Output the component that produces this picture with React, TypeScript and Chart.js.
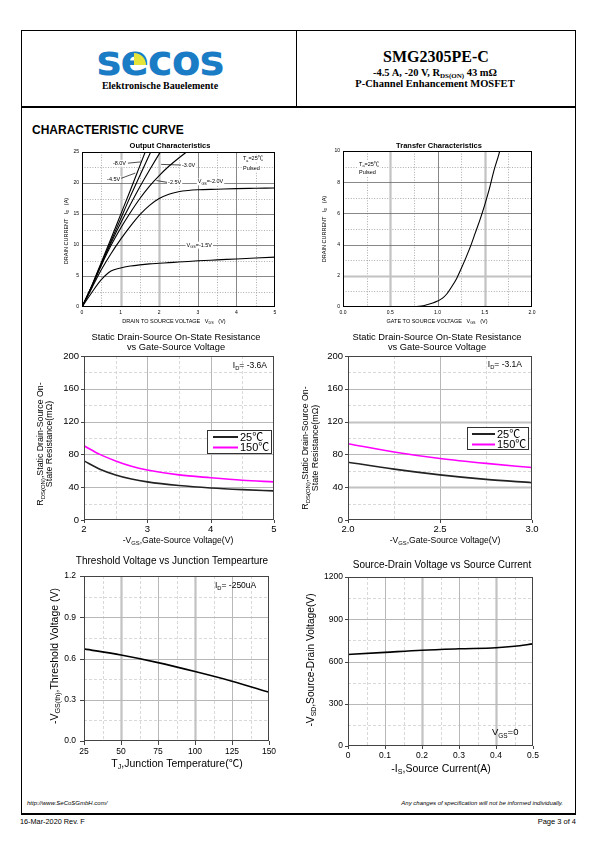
import React, { useEffect, useRef } from 'react';
import { Chart, registerables } from 'chart.js';
Chart.register(...registerables);

const SANS = '"Liberation Sans", Arial, "Noto Sans CJK SC", sans-serif';
const SERIF = '"Liberation Serif", "Times New Roman", serif';

// ---------- Output characteristics (I_D vs V_DS) ----------
const outVds = [0, 0.25, 0.5, 0.75, 1.0, 1.25, 1.5, 1.75, 2.0, 2.25, 2.5, 2.75, 3.0, 3.5, 4.0, 4.5, 5.0];
const outId_8V0 = [0, 3.4, 7.2, 11.0, 14.9, 18.8, 22.8, 26.8];
const outId_4V5 = [0, 3.3, 7.0, 10.6, 14.2, 17.8, 21.2, 24.6, 28.0];
const outId_3V0 = [0, 3.3, 6.9, 10.3, 13.5, 16.5, 19.4, 22.1, 24.7, 27.2];
const outId_2V5 = [0, 3.2, 6.7, 9.9, 12.7, 15.2, 17.5, 19.5, 21.2, 22.7, 24.0, 25.2];
const outId_2V0 = [0, 3.0, 6.0, 8.6, 10.9, 13.0, 14.9, 16.4, 17.5, 18.2, 18.6, 18.8, 18.9, 19.0, 19.1, 19.15, 19.2];
const outId_1V5 = [0, 2.3, 4.4, 5.8, 6.3, 6.6, 6.8, 6.95, 7.05, 7.15, 7.25, 7.35, 7.45, 7.6, 7.75, 7.9, 8.05];

// ---------- Transfer characteristics (I_D vs V_GS) ----------
const trVgs = [0, 0.25, 0.5, 0.75, 0.85, 0.95, 1.0, 1.05, 1.1, 1.15, 1.2, 1.25, 1.3, 1.35, 1.4, 1.45, 1.5, 1.55, 1.6, 1.65, 1.7];
const trId = [0, 0, 0, 0.02, 0.08, 0.25, 0.38, 0.55, 0.85, 1.3, 1.8, 2.45, 3.15, 3.9, 4.75, 5.6, 6.55, 7.6, 8.8, 9.8, 11.0];

// ---------- R_DS(ON) vs V_GS, I_D = -3.6A ----------
const rdsAVgs = [2.0, 2.25, 2.5, 2.75, 3.0, 3.5, 4.0, 4.5, 5.0];
const rdsA_25C = [72, 62, 55, 50, 46.5, 42, 39, 37, 35.5];
const rdsA_150C = [90.5, 80, 72, 65.5, 61, 55, 51.5, 48.5, 46.5];

// ---------- R_DS(ON) vs V_GS, I_D = -3.1A ----------
const rdsBVgs = [2.0, 2.25, 2.5, 2.75, 3.0];
const rdsB_25C = [70.5, 62, 55, 49.5, 45.5];
const rdsB_150C = [93, 83, 75, 69, 64];

// ---------- Threshold voltage vs T_J ----------
const vthTj = [25, 50, 75, 100, 125, 150];
const vthV = [0.67, 0.625, 0.57, 0.505, 0.435, 0.355];

// ---------- Source-drain voltage vs source current ----------
const sdIs = [0, 0.1, 0.2, 0.3, 0.4, 0.45, 0.5];
const sdVsd = [650, 665, 680, 690, 698, 708, 725];

// ---------- legend labels ----------
const legendLabels = ['25℃', '150℃'];

type Seg = [string, boolean?];
interface TextItem { segs: Seg[]; x: number; y: number; size: number; align?: 'left' | 'center' | 'right'; bold?: boolean; rot?: boolean; bg?: boolean; data?: boolean; }
interface AxisSpec { min: number; max: number; step: number; dec: number; zeroPlain?: boolean; thick?: number[]; }
interface Series { xs: number[]; ys: number[]; color: string; width: number; }
interface LegendSpec { box: [number, number, number, number]; rows: { color: string; label: string; y: number }[]; lineX: [number, number]; textX: number; size: number; }
interface Spec {
  box: [number, number, number, number];
  area: [number, number, number, number];
  x: AxisSpec; y: AxisSpec;
  tickSize: number; xPad: number; yPad: number;
  dark: boolean; tickLen: number;
  series: Series[];
  texts: TextItem[];
  leaders?: [number, number, number, number][];
  legend?: LegendSpec;
}

function drawSegs(ctx: CanvasRenderingContext2D, t: TextItem, x: number, y: number) {
  const size = t.size;
  const sub = size * 0.68;
  const font = (s: number) => `${t.bold ? 'bold ' : ''}${s}px ${SANS}`;
  let w = 0;
  for (const [s, isSub] of t.segs) { ctx.font = font(isSub ? sub : size); w += ctx.measureText(s).width; }
  ctx.save();
  ctx.translate(x, y);
  if (t.rot) ctx.rotate(-Math.PI / 2);
  let sx = t.align === 'center' ? -w / 2 : t.align === 'right' ? -w : 0;
  if (t.bg) { ctx.fillStyle = '#fff'; ctx.fillRect(sx - 1, -size * 0.6, w + 2, size * 1.25); }
  ctx.fillStyle = '#000';
  ctx.textBaseline = 'middle';
  ctx.textAlign = 'left';
  for (const [s, isSub] of t.segs) {
    ctx.font = font(isSub ? sub : size);
    ctx.fillText(s, sx, isSub ? size * 0.32 : 0);
    sx += ctx.measureText(s).width;
  }
  ctx.restore();
}

function inner(ax: AxisSpec): number[] {
  const out: number[] = [];
  const n = Math.round((ax.max - ax.min) / ax.step);
  for (let i = 1; i < n; i++) out.push(+(ax.min + i * ax.step).toFixed(6));
  return out;
}
function halves(ax: AxisSpec): number[] {
  const out: number[] = [];
  const n = Math.round((ax.max - ax.min) / ax.step);
  for (let i = 0; i < n; i++) out.push(+(ax.min + (i + 0.5) * ax.step).toFixed(6));
  return out;
}

function makeDecor(spec: Spec) {
  const [bx, by] = spec.box;
  return {
    id: 'decor',
    beforeDatasetsDraw(chart: any) {
      const ctx: CanvasRenderingContext2D = chart.ctx;
      const a = chart.chartArea;
      const sx = chart.scales.x, sy = chart.scales.y;
      ctx.save();
      const vline = (v: number) => { const p = Math.round(sx.getPixelForValue(v)) + 0.5; ctx.beginPath(); ctx.moveTo(p, a.top); ctx.lineTo(p, a.bottom); ctx.stroke(); };
      const hline = (v: number) => { const p = Math.round(sy.getPixelForValue(v)) + 0.5; ctx.beginPath(); ctx.moveTo(a.left, p); ctx.lineTo(a.right, p); ctx.stroke(); };
      ctx.setLineDash(spec.dark ? [1, 1.6] : [3, 2]);
      ctx.strokeStyle = spec.dark ? '#8a8a8a' : '#cfcfcf';
      ctx.lineWidth = spec.dark ? 0.7 : 0.8;
      halves(spec.x).forEach(vline);
      halves(spec.y).forEach(hline);
      ctx.setLineDash([]);
      const drawMajor = (vals: number[], thick: number[] | undefined, fn: (v: number) => void) => {
        vals.forEach((v) => {
          const isThick = (thick || []).some((t) => Math.abs(t - v) < 1e-6);
          if (isThick) { ctx.strokeStyle = '#c2c2c2'; ctx.lineWidth = 2.2; }
          else if (spec.dark) { ctx.strokeStyle = '#6a6a6a'; ctx.lineWidth = 0.8; }
          else { ctx.strokeStyle = '#b8b8b8'; ctx.lineWidth = 1; }
          fn(v);
        });
      };
      drawMajor(inner(spec.x), spec.x.thick, vline);
      drawMajor(inner(spec.y), spec.y.thick, hline);
      ctx.restore();
    },
    afterDatasetsDraw(chart: any) {
      const ctx: CanvasRenderingContext2D = chart.ctx;
      const a = chart.chartArea;
      const sx = chart.scales.x, sy = chart.scales.y;
      ctx.save();
      ctx.strokeStyle = spec.dark ? '#000' : '#444';
      ctx.lineWidth = 1;
      ctx.strokeRect(Math.round(a.left) + 0.5, Math.round(a.top) + 0.5, Math.round(a.right - a.left) - 1, Math.round(a.bottom - a.top) - 1);
      if (spec.tickLen > 0) {
        ctx.strokeStyle = '#444';
        ctx.beginPath();
        const xt = [spec.x.min, ...inner(spec.x), spec.x.max];
        const yt = [spec.y.min, ...inner(spec.y), spec.y.max];
        xt.forEach((v) => { const p = Math.round(sx.getPixelForValue(v)) + 0.5; ctx.moveTo(p, a.bottom); ctx.lineTo(p, a.bottom + spec.tickLen); });
        yt.forEach((v) => { const p = Math.round(sy.getPixelForValue(v)) + 0.5; ctx.moveTo(a.left, p); ctx.lineTo(a.left - spec.tickLen, p); });
        ctx.stroke();
      }
      if (spec.leaders) {
        ctx.strokeStyle = '#000';
        ctx.lineWidth = 0.7;
        spec.leaders.forEach(([x1, y1, x2, y2]) => {
          ctx.beginPath();
          ctx.moveTo(sx.getPixelForValue(x1), sy.getPixelForValue(y1));
          ctx.lineTo(sx.getPixelForValue(x2), sy.getPixelForValue(y2));
          ctx.stroke();
        });
      }
      spec.texts.forEach((t) => {
        const px = t.data ? sx.getPixelForValue(t.x) : t.x - bx;
        const py = t.data ? sy.getPixelForValue(t.y) : t.y - by;
        drawSegs(ctx, t, px, py);
      });
      if (spec.legend) {
        const lg = spec.legend;
        const [l, t, r, b] = lg.box;
        ctx.fillStyle = '#fff';
        ctx.fillRect(l - bx, t - by, r - l, b - t);
        ctx.strokeStyle = '#333';
        ctx.lineWidth = 1;
        ctx.strokeRect(l - bx + 0.5, t - by + 0.5, r - l, b - t);
        lg.rows.forEach((row) => {
          ctx.strokeStyle = row.color;
          ctx.lineWidth = 2;
          ctx.beginPath();
          ctx.moveTo(lg.lineX[0] - bx, row.y - by);
          ctx.lineTo(lg.lineX[1] - bx, row.y - by);
          ctx.stroke();
          ctx.fillStyle = '#000';
          ctx.font = `${lg.size}px ${SANS}`;
          ctx.textBaseline = 'middle';
          ctx.textAlign = 'left';
          ctx.fillText(row.label, lg.textX - bx, row.y - by + 0.5);
        });
      }
      ctx.restore();
    },
  };
}

function ChartBox({ spec }: { spec: Spec }) {
  const ref = useRef<HTMLCanvasElement>(null);
  const [bx, by, bw, bh] = spec.box;
  useEffect(() => {
    const [L, T, R, B] = spec.area;
    const mkAxis = (ax: AxisSpec, pad: number, isX: boolean) => ({
      type: 'linear',
      min: ax.min,
      max: ax.max,
      grid: { display: false, drawTicks: false },
      border: { display: false },
      ticks: {
        stepSize: ax.step,
        autoSkip: false,
        maxRotation: 0,
        minRotation: 0,
        padding: pad,
        color: '#000',
        font: { family: SANS, size: spec.tickSize },
        callback: (v: any) => {
          const n = Number(v);
          if (ax.zeroPlain && Math.abs(n) < 1e-9) return '0';
          return n.toFixed(ax.dec);
        },
      },
      afterFit: (s: any) => {
        if (isX) s.height = by + bh - B;
        else s.width = L - bx;
      },
    });
    const chart = new Chart(ref.current as HTMLCanvasElement, {
      type: 'line',
      data: {
        datasets: spec.series.map((s) => ({
          data: s.ys.map((y, i) => ({ x: s.xs[i], y })),
          borderColor: s.color,
          borderWidth: s.width,
          pointRadius: 0,
          cubicInterpolationMode: 'monotone',
          fill: false,
        })),
      } as any,
      options: {
        animation: false,
        responsive: false,
        devicePixelRatio: 1,
        events: [],
        layout: { padding: { left: 0, top: T - by, right: bx + bw - R, bottom: 0 } },
        scales: { x: mkAxis(spec.x, spec.xPad, true), y: mkAxis(spec.y, spec.yPad, false) } as any,
        plugins: { legend: { display: false }, tooltip: { enabled: false }, title: { display: false } },
      },
      plugins: [makeDecor(spec) as any],
    });
    return () => chart.destroy();
  }, [spec]);
  return <canvas ref={ref} width={bw} height={bh} style={{ position: 'absolute', left: bx, top: by, width: bw, height: bh }} />;
}

const blk = (w: number) => ({ xs: outVds, color: '#000', width: w });

const specOutput: Spec = {
  box: [22, 136, 268, 194],
  area: [82, 152, 275, 307],
  x: { min: 0, max: 5, step: 1, dec: 0, thick: [1, 2] },
  y: { min: 0, max: 25, step: 5, dec: 0 },
  tickSize: 5, xPad: 3, yPad: 3, dark: true, tickLen: 0,
  series: [
    { ...blk(1.1), ys: outId_8V0 },
    { ...blk(1.1), ys: outId_4V5 },
    { ...blk(1.1), ys: outId_3V0 },
    { ...blk(1.1), ys: outId_2V5 },
    { ...blk(1.1), ys: outId_2V0 },
    { ...blk(1.1), ys: outId_1V5 },
  ],
  leaders: [[1.19, 23.2, 1.52, 23.4], [0.99, 20.7, 1.38, 21.6], [2.57, 22.9, 2.05, 23.0], [2.21, 20.1, 1.93, 20.4]],
  texts: [
    { segs: [['Output Characteristics']], x: 170, y: 145.5, size: 7.5, align: 'center', bold: true },
    { segs: [['DRAIN CURRENT   I'], ['D', true], ['   (A)']], x: 66, y: 231, size: 5.5, align: 'center', rot: true },
    { segs: [['DRAIN TO SOURCE VOLTAGE   V'], ['DS', true], ['   (V)']], x: 174, y: 321, size: 5.5, align: 'center' },
    { segs: [['T'], ['a', true], ['=25℃']], x: 4.17, y: 23.9, size: 5.5, align: 'left', data: true, bg: true },
    { segs: [['Pulsed']], x: 4.17, y: 22.4, size: 5.5, align: 'left', data: true, bg: true },
    { segs: [['-8.0V']], x: 0.8, y: 23.2, size: 5.5, align: 'left', data: true, bg: true },
    { segs: [['-4.5V']], x: 0.65, y: 20.6, size: 5.5, align: 'left', data: true, bg: true },
    { segs: [['-3.0V']], x: 2.59, y: 22.9, size: 5.5, align: 'left', data: true, bg: true },
    { segs: [['-2.5V']], x: 2.23, y: 20.1, size: 5.5, align: 'left', data: true, bg: true },
    { segs: [['V'], ['GS', true], ['=-2.0V']], x: 3.0, y: 20.2, size: 5.5, align: 'left', data: true, bg: true },
    { segs: [['V'], ['GS', true], ['=-1.5V']], x: 2.71, y: 10, size: 5.5, align: 'left', data: true, bg: true },
  ],
};

const specTransfer: Spec = {
  box: [298, 136, 268, 194],
  area: [343, 151, 532, 307],
  x: { min: 0, max: 2, step: 0.5, dec: 1, thick: [0.5, 1.5] },
  y: { min: 0, max: 10, step: 2, dec: 0, thick: [2] },
  tickSize: 5, xPad: 3, yPad: 3, dark: true, tickLen: 0,
  series: [{ xs: trVgs, ys: trId, color: '#000', width: 1.1 }],
  texts: [
    { segs: [['Transfer Characteristics']], x: 439, y: 145.5, size: 7.5, align: 'center', bold: true },
    { segs: [['DRAIN CURRENT   I'], ['D', true], ['   (A)']], x: 324, y: 229, size: 5.5, align: 'center', rot: true },
    { segs: [['GATE TO SOURCE VOLTAGE   V'], ['GS', true], ['   (V)']], x: 437, y: 321, size: 5.5, align: 'center' },
    { segs: [['T'], ['a', true], ['=25℃']], x: 0.17, y: 9.15, size: 5.5, align: 'left', data: true, bg: true },
    { segs: [['Pulsed']], x: 0.17, y: 8.63, size: 5.5, align: 'left', data: true, bg: true },
  ],
};

const specRdsA: Spec = {
  box: [22, 330, 268, 220],
  area: [84, 356, 274, 520],
  x: { min: 2, max: 5, step: 1, dec: 0 },
  y: { min: 0, max: 200, step: 40, dec: 0 },
  tickSize: 9.5, xPad: 4, yPad: 5, dark: false, tickLen: 3,
  series: [
    { xs: rdsAVgs, ys: rdsA_25C, color: '#222', width: 1.6 },
    { xs: rdsAVgs, ys: rdsA_150C, color: '#ff00ff', width: 1.6 },
  ],
  texts: [
    { segs: [['Static Drain-Source On-State Resistance']], x: 176, y: 337, size: 9.3, align: 'center' },
    { segs: [['vs Gate-Source Voltage']], x: 176, y: 347, size: 9.3, align: 'center' },
    { segs: [['R'], ['DS(ON)', true], [',Static Drain-Source On-']], x: 41, y: 444, size: 8.8, align: 'center', rot: true },
    { segs: [['State Resistance(mΩ)']], x: 50, y: 444, size: 8.8, align: 'center', rot: true },
    { segs: [['-V'], ['GS', true], [',Gate-Source Voltage(V)']], x: 178, y: 541, size: 8.6, align: 'center' },
    { segs: [['I'], ['D', true], ['= -3.6A']], x: 4.35, y: 188.7, size: 8.5, align: 'left', data: true },
  ],
  legend: {
    box: [207, 430, 271, 453],
    rows: [{ color: '#222', label: legendLabels[0], y: 437 }, { color: '#ff00ff', label: legendLabels[1], y: 447.5 }],
    lineX: [213, 238], textX: 240, size: 11,
  },
};

const specRdsB: Spec = {
  box: [298, 330, 270, 220],
  area: [348, 356, 532, 520],
  x: { min: 2, max: 3, step: 0.5, dec: 1 },
  y: { min: 0, max: 200, step: 40, dec: 0, thick: [40, 120] },
  tickSize: 9.5, xPad: 4, yPad: 5, dark: false, tickLen: 3,
  series: [
    { xs: rdsBVgs, ys: rdsB_25C, color: '#222', width: 1.6 },
    { xs: rdsBVgs, ys: rdsB_150C, color: '#ff00ff', width: 1.6 },
  ],
  texts: [
    { segs: [['Static Drain-Source On-State Resistance']], x: 437, y: 337, size: 9.3, align: 'center' },
    { segs: [['vs Gate-Source Voltage']], x: 437, y: 347, size: 9.3, align: 'center' },
    { segs: [['R'], ['DS(ON)', true], [',Static Drain-Source On-']], x: 306, y: 448, size: 8.8, align: 'center', rot: true },
    { segs: [['State Resistance(mΩ)']], x: 316, y: 448, size: 8.8, align: 'center', rot: true },
    { segs: [['-V'], ['GS', true], [',Gate-Source Voltage(V)']], x: 445, y: 541, size: 8.6, align: 'center' },
    { segs: [['I'], ['D', true], ['= -3.1A']], x: 2.76, y: 189, size: 8.5, align: 'left', data: true },
  ],
  legend: {
    box: [467, 427, 528, 449],
    rows: [{ color: '#222', label: legendLabels[0], y: 434 }, { color: '#ff00ff', label: legendLabels[1], y: 444.5 }],
    lineX: [472, 495], textX: 497, size: 11,
  },
};

const specVth: Spec = {
  box: [22, 550, 268, 230],
  area: [84, 576, 269, 741],
  x: { min: 25, max: 150, step: 25, dec: 0, thick: [50, 100] },
  y: { min: 0, max: 1.2, step: 0.3, dec: 1 },
  tickSize: 8.5, xPad: 6, yPad: 8, dark: false, tickLen: 4,
  series: [{ xs: vthTj, ys: vthV, color: '#000', width: 1.6 }],
  texts: [
    { segs: [['Threshold Voltage vs Junction Tempearture']], x: 172, y: 561, size: 10, align: 'center' },
    { segs: [['-V'], ['GS(th)', true], [',Threshold Voltage (V)']], x: 55, y: 656, size: 10.5, align: 'center', rot: true },
    { segs: [['T'], ['J', true], [',Junction Temperature(℃)']], x: 177, y: 764, size: 10.5, align: 'center' },
    { segs: [['I'], ['D', true], ['= -250uA']], x: 113.5, y: 1.128, size: 8.5, align: 'left', data: true },
  ],
};

const specSd: Spec = {
  box: [298, 550, 270, 230],
  area: [348, 577, 533, 746],
  x: { min: 0, max: 0.5, step: 0.1, dec: 1, zeroPlain: true, thick: [0.2, 0.4] },
  y: { min: 0, max: 1200, step: 300, dec: 0 },
  tickSize: 8.5, xPad: 5, yPad: 5, dark: false, tickLen: 3,
  series: [{ xs: sdIs, ys: sdVsd, color: '#000', width: 1.6 }],
  texts: [
    { segs: [['Source-Drain Voltage vs Source Current']], x: 442, y: 565, size: 10, align: 'center' },
    { segs: [['-V'], ['SD', true], [',Source-Drain Voltage(V)']], x: 311, y: 660, size: 10.2, align: 'center', rot: true },
    { segs: [['-I'], ['S', true], [',Source Current(A)']], x: 441, y: 769, size: 10.5, align: 'center' },
    { segs: [['V'], ['GS', true], ['=0']], x: 0.389, y: 94, size: 9.5, align: 'left', data: true },
  ],
};

const specs: Spec[] = [specOutput, specTransfer, specRdsA, specRdsB, specVth, specSd];

function Txt(props: { x: number; y: number; size: number; align?: 'left' | 'center' | 'right'; bold?: boolean; italic?: boolean; family?: string; color?: string; spacing?: number; children: React.ReactNode }) {
  const { x, y, size, align = 'left', bold, italic, family = SANS, color = '#000', spacing = 0, children } = props;
  const tx = align === 'center' ? '-50%' : align === 'right' ? '-100%' : '0';
  return (
    <div style={{ position: 'absolute', left: x, top: y, transform: `translate(${tx}, -50%)`, fontSize: size, lineHeight: 1, fontWeight: bold ? 700 : 400, fontStyle: italic ? 'italic' : 'normal', fontFamily: family, color, whiteSpace: 'nowrap', letterSpacing: spacing }}>
      {children}
    </div>
  );
}

const rect = (l: number, t: number, w: number, h: number): React.CSSProperties => ({ position: 'absolute', left: l, top: t, width: w, height: h, background: '#000' });

export default function App() {
  return (
    <div style={{ position: 'absolute', left: 0, top: 0, width: 595, height: 842, background: '#fff', overflow: 'hidden' }}>
      {/* frame */}
      <div style={rect(21, 30, 555, 1)} />
      <div style={rect(21, 30, 1, 785)} />
      <div style={rect(575, 30, 1, 785)} />
      <div style={rect(296, 30, 1, 77)} />
      <div style={rect(21, 106, 555, 2)} />
      <div style={rect(21, 813, 555, 2)} />

      {/* logo */}
      <Txt x={160} y={61} size={42} align="center" bold family='"DejaVu Sans", sans-serif' color="#1b7cc6" spacing={-1}>secos</Txt>
      <div style={{ position: 'absolute', left: 134, top: 53, width: 12, height: 12, background: '#e4e43a', borderTopRightRadius: 12 }} />
      <Txt x={160} y={86} size={10} align="center" bold family={SERIF}>Elektronische Bauelemente</Txt>

      {/* title block */}
      <Txt x={436} y={57} size={16} align="center" bold family={SERIF}>SMG2305PE-C</Txt>
      <Txt x={435} y={73} size={10.5} align="center" bold family={SERIF}>
        -4.5 A, -20 V, R<span style={{ fontSize: 7, position: 'relative', top: 2 }}>DS(ON)</span> 43 mΩ
      </Txt>
      <Txt x={435} y={84} size={10.5} align="center" bold family={SERIF}>P-Channel Enhancement MOSFET</Txt>

      <Txt x={32} y={130} size={12} bold>CHARACTERISTIC CURVE</Txt>

      {specs.map((s, i) => <ChartBox key={i} spec={s} />)}

      {/* footer */}
      <Txt x={27} y={803} size={6} italic>http://www.SeCoSGmbH.com/</Txt>
      <Txt x={563} y={803} size={6} italic align="right">Any changes of specification will not be informed individually.</Txt>
      <Txt x={20} y={822} size={7.3}>16-Mar-2020 Rev. F</Txt>
      <Txt x={576} y={822} size={7.5} align="right">Page 3 of 4</Txt>
    </div>
  );
}
